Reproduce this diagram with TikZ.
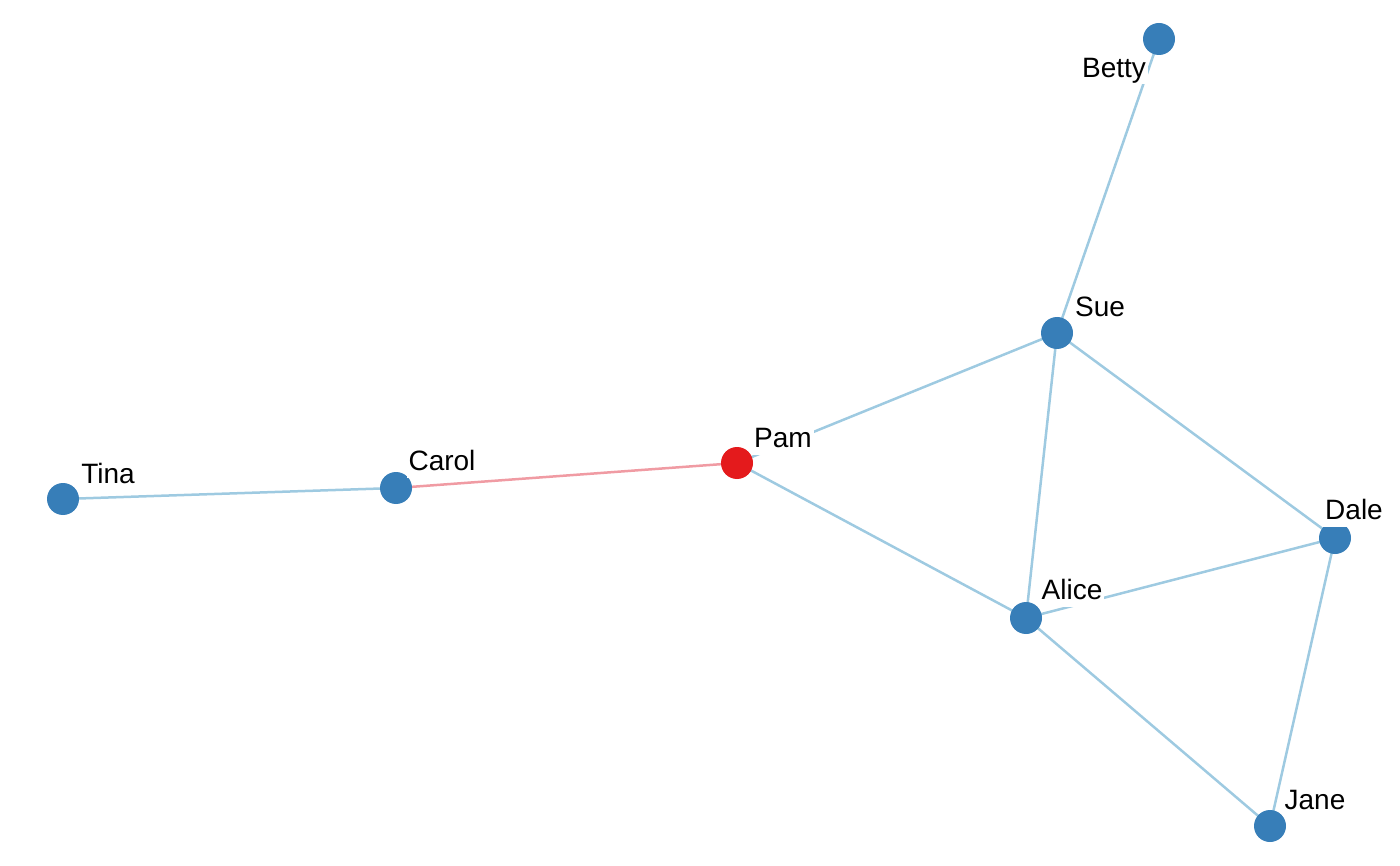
\documentclass[tikz,border=0pt]{standalone}
\usepackage{fontspec}
\setmainfont{Liberation Sans}
\definecolor{nodeblue}{HTML}{377EB8}
\definecolor{nodered}{HTML}{E41A1C}
\definecolor{edgeblue}{HTML}{9ECAE1}
\definecolor{edgered}{HTML}{F09BA3}
\tikzset{
  vert/.style={circle,fill=nodeblue,minimum size=32pt,inner sep=0pt},
  vertred/.style={vert,fill=nodered},
  edge/.style={draw=edgeblue,line width=2.5pt},
  edgeR/.style={draw=edgered,line width=2.5pt},
  lbl/.style={fill=white,inner sep=2pt,font=\fontsize{28}{31}\selectfont,text height=20pt,text depth=5pt}
}
\begin{document}
\begin{tikzpicture}[x=1pt,y=-1pt]
\useasboundingbox (0,0) rectangle (1400,866);
\coordinate (betty) at (1159,39);
\coordinate (sue) at (1057,333);
\coordinate (pam) at (737,463);
\coordinate (carol) at (396,488);
\coordinate (tina) at (63,499);
\coordinate (dale) at (1335,538);
\coordinate (alice) at (1026,618);
\coordinate (jane) at (1270,826);
% edges
\draw[edge] (betty) -- (sue);
\draw[edge] (sue) -- (pam);
\draw[edge] (sue) -- (alice);
\draw[edge] (sue) -- (dale);
\draw[edgeR] (pam) -- (carol);
\draw[edge] (pam) -- (alice);
\draw[edge] (carol) -- (tina);
\draw[edge] (alice) -- (dale);
\draw[edge] (alice) -- (jane);
\draw[edge] (dale) -- (jane);
% vertices
\node[vert] (nbetty) at (betty) {};
\node[vert] (nsue) at (sue) {};
\node[vertred] (npam) at (pam) {};
\node[vert] (ncarol) at (carol) {};
\node[vert] (ntina) at (tina) {};
\node[vert] (ndale) at (dale) {};
\node[vert] (nalice) at (alice) {};
\node[vert] (njane) at (jane) {};
% labels
\node[lbl] (lbetty) at (1114,70) {Betty};
\node[lbl] (lsue) at (1100,309) {Sue};
\node[lbl] (lpam) at (783,440) {Pam};
\node[lbl] (lcarol) at (442,463) {Carol};
\node[lbl] (ltina) at (108,476) {Tina};
\node[lbl] (ldale) at (1354,512) {Dale};
\node[lbl] (lalice) at (1072,592) {Alice};
\node[lbl] (ljane) at (1315,802) {Jane};
\end{tikzpicture}
\end{document}
